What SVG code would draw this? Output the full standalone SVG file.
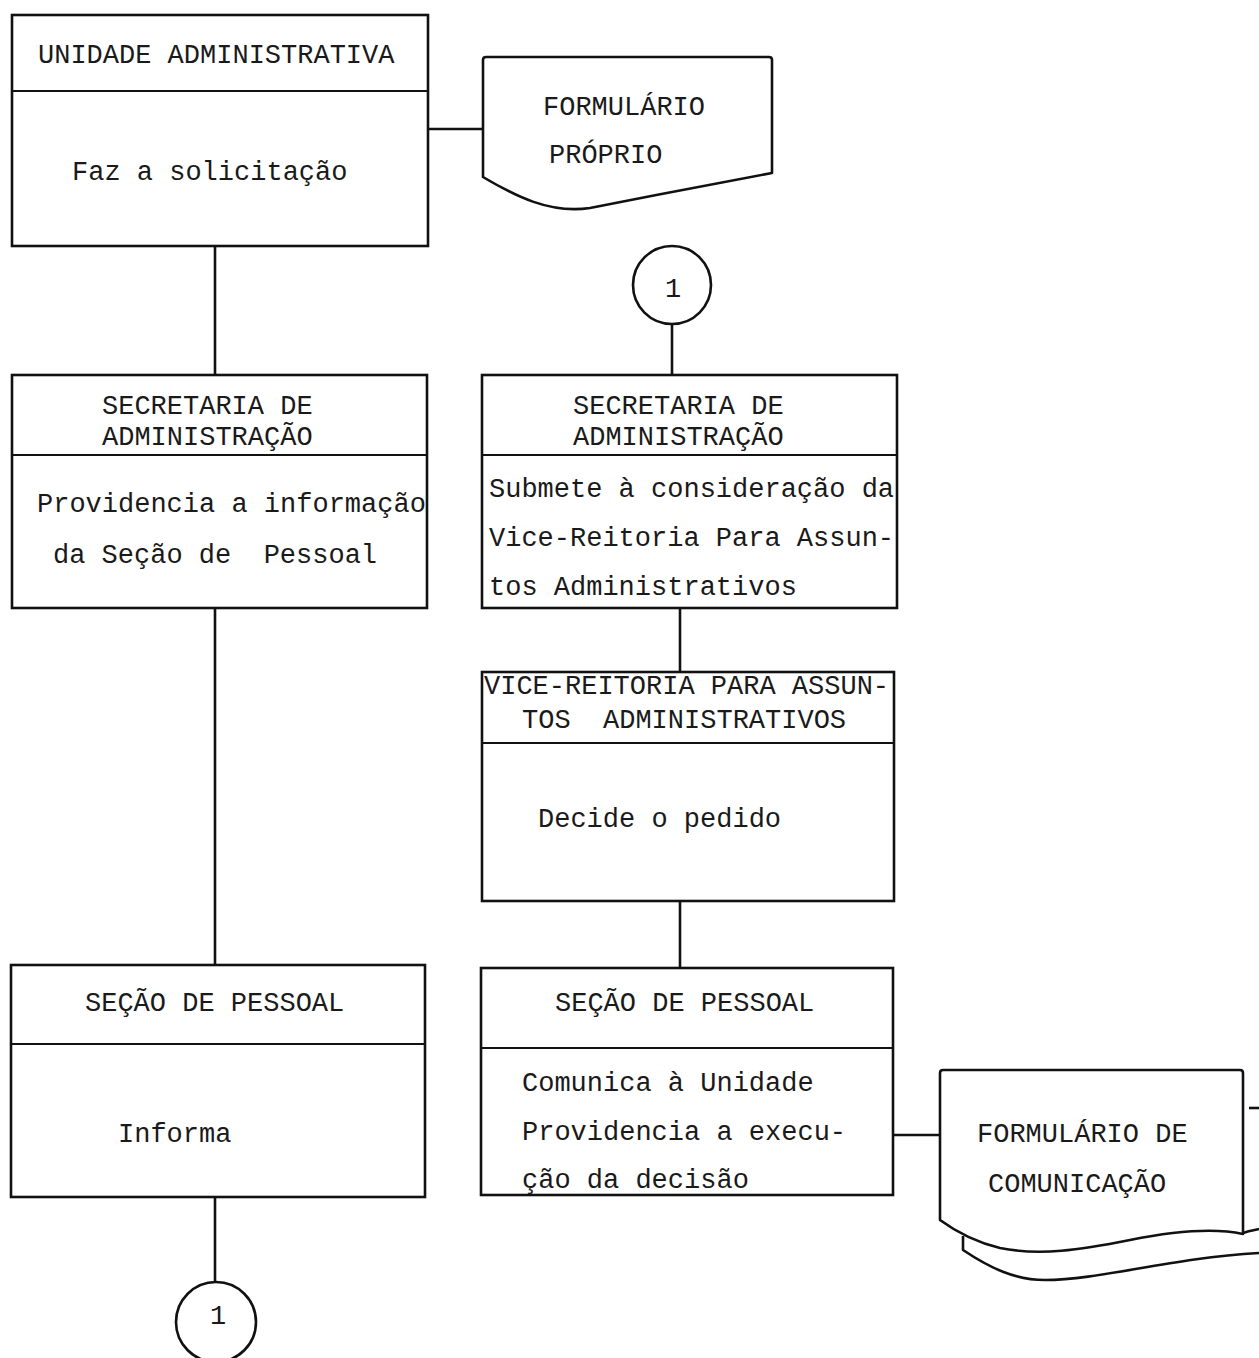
<svg xmlns="http://www.w3.org/2000/svg" width="1259" height="1358" viewBox="0 0 1259 1358">
  <style>
    .box { fill: none; stroke: #111; stroke-width: 2.6; }
    .rule { stroke: #111; stroke-width: 2.2; }
    .wire { fill: none; stroke: #111; stroke-width: 2.6; }
    .doc { fill: none; stroke: #111; stroke-width: 2.6; stroke-linejoin: round; }
    .t { font-family: "Liberation Mono", "DejaVu Sans Mono", monospace; font-size: 27px; fill: #1a1a1a; white-space: pre; }
  </style>
  <rect width="1259" height="1358" fill="#ffffff"/>

  <!-- connectors -->
  <g id="connectors">
    <line class="wire" x1="215" y1="246" x2="215" y2="375"/>
    <line class="wire" x1="428" y1="129" x2="483" y2="129"/>
    <line class="wire" x1="215" y1="608" x2="215" y2="965"/>
    <line class="wire" x1="215" y1="1197" x2="215" y2="1282"/>
    <line class="wire" x1="672" y1="324" x2="672" y2="375"/>
    <line class="wire" x1="680" y1="608" x2="680" y2="672"/>
    <line class="wire" x1="680" y1="901" x2="680" y2="968"/>
    <line class="wire" x1="893" y1="1135" x2="940" y2="1135"/>
    <line class="wire" x1="1249" y1="1108" x2="1259" y2="1108"/>
  </g>

  <!-- Unidade Administrativa -->
  <g id="unidade-administrativa">
    <rect class="box" x="12" y="15" width="416" height="231"/>
    <line class="rule" x1="12" y1="91" x2="428" y2="91"/>
    <text class="t" x="38" y="63">UNIDADE ADMINISTRATIVA</text>
    <text class="t" x="72" y="180">Faz a solicitação</text>
  </g>

  <!-- Formulário próprio (document) -->
  <g id="formulario-proprio">
    <path class="doc" d="M483,177 L483,60 Q483,57 486,57 L769,57 Q772,57 772,60 L772,173 C720,183 650,196 590,208 C550,214 515,196 483,177 Z"/>
    <text class="t" x="543" y="115">FORMULÁRIO</text>
    <text class="t" x="549" y="163">PRÓPRIO</text>
  </g>

  <!-- Secretaria de Administração (left) -->
  <g id="secretaria-esq">
    <rect class="box" x="12" y="375" width="415" height="233"/>
    <line class="rule" x1="12" y1="455" x2="427" y2="455"/>
    <text class="t" x="102" y="414">SECRETARIA DE</text>
    <text class="t" x="102" y="445">ADMINISTRAÇÃO</text>
    <text class="t" x="37" y="512">Providencia a informação</text>
    <text class="t" x="53" y="563" xml:space="preserve">da Seção de  Pessoal</text>
  </g>

  <!-- Seção de Pessoal (left) -->
  <g id="secao-pessoal-esq">
    <rect class="box" x="11" y="965" width="414" height="232"/>
    <line class="rule" x1="11" y1="1044" x2="425" y2="1044"/>
    <text class="t" x="85" y="1011">SEÇÃO DE PESSOAL</text>
    <text class="t" x="118" y="1142">Informa</text>
  </g>

  <!-- off-page connector (bottom) -->
  <g id="conector-1-saida">
    <circle class="box" cx="216" cy="1322" r="40"/>
    <text class="t" x="218" y="1324" text-anchor="middle">1</text>
  </g>

  <!-- off-page connector (top) -->
  <g id="conector-1-entrada">
    <circle class="box" cx="672" cy="285" r="39"/>
    <text class="t" x="673" y="297" text-anchor="middle">1</text>
  </g>

  <!-- Secretaria de Administração (right) -->
  <g id="secretaria-dir">
    <rect class="box" x="482" y="375" width="415" height="233"/>
    <line class="rule" x1="482" y1="455" x2="897" y2="455"/>
    <text class="t" x="573" y="414">SECRETARIA DE</text>
    <text class="t" x="573" y="445">ADMINISTRAÇÃO</text>
    <text class="t" x="489" y="497">Submete à consideração da</text>
    <text class="t" x="489" y="546">Vice-Reitoria Para Assun-</text>
    <text class="t" x="489" y="595">tos Administrativos</text>
  </g>

  <!-- Vice-Reitoria para Assuntos Administrativos -->
  <g id="vice-reitoria">
    <rect class="box" x="482" y="672" width="412" height="229"/>
    <line class="rule" x1="482" y1="743" x2="894" y2="743"/>
    <text class="t" x="484" y="694">VICE-REITORIA PARA ASSUN-</text>
    <text class="t" x="522" y="728" xml:space="preserve">TOS  ADMINISTRATIVOS</text>
    <text class="t" x="538" y="827">Decide o pedido</text>
  </g>

  <!-- Seção de Pessoal (right) -->
  <g id="secao-pessoal-dir">
    <rect class="box" x="481" y="968" width="412" height="227"/>
    <line class="rule" x1="481" y1="1048" x2="893" y2="1048"/>
    <text class="t" x="555" y="1011">SEÇÃO DE PESSOAL</text>
    <text class="t" x="522" y="1091">Comunica à Unidade</text>
    <text class="t" x="522" y="1140">Providencia a execu-</text>
    <text class="t" x="522" y="1188">ção da decisão</text>
  </g>

  <!-- Formulário de comunicação (multiple documents) -->
  <g id="formulario-comunicacao">
    <path class="doc" d="M963,1236 L963,1250 C990,1268 1015,1280 1045,1280 C1100,1280 1170,1258 1259,1253"/>
    <path class="doc" d="M1243,1233 C1248,1231 1254,1230 1259,1229"/>
    <path class="doc" d="M940,1220 L940,1073 Q940,1070 943,1070 L1240,1070 Q1243,1070 1243,1073 L1243,1234 C1215,1228 1180,1230 1130,1240 C1080,1250 1040,1256 1000,1248 C975,1242 955,1231 940,1220 Z"/>
    <text class="t" x="977" y="1142">FORMULÁRIO DE</text>
    <text class="t" x="988" y="1192">COMUNICAÇÃO</text>
  </g>
</svg>
